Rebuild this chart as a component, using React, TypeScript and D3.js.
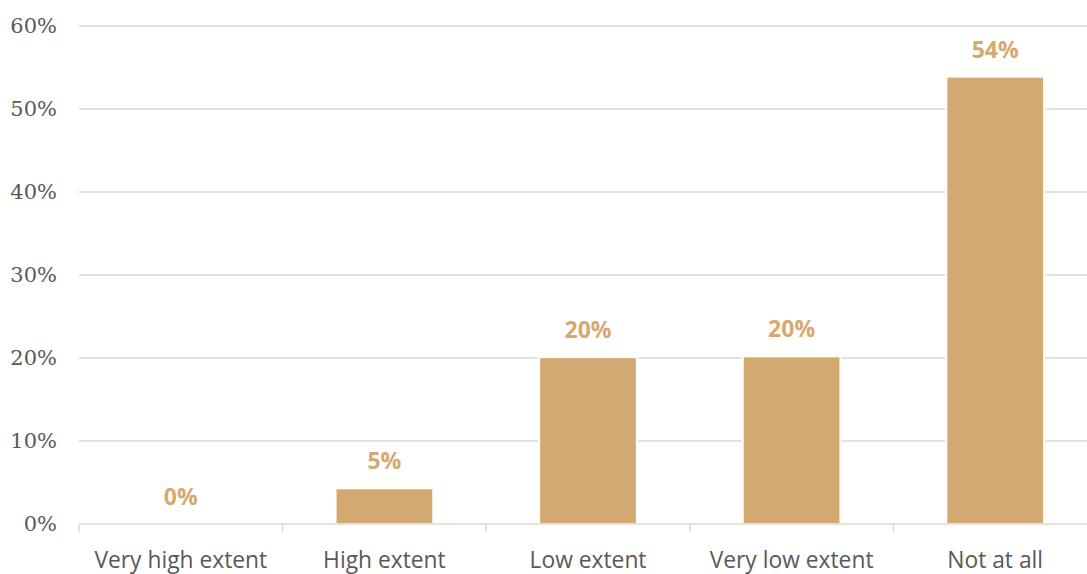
import React from "react";
import * as d3 from "d3";

const categories = ["Very high extent", "High extent", "Low extent", "Very low extent", "Not at all"];
const values = [0, 4.3, 20.1, 20.2, 53.9];
const valueLabels = ["0%", "5%", "20%", "20%", "54%"];
const yTicks = [0, 10, 20, 30, 40, 50, 60];

const W = 1087;
const H = 574;

export default function App() {
  const x = d3.scaleBand<string>().domain(categories).range([79, 1097]).paddingInner(0).paddingOuter(0);
  const y = d3.scaleLinear().domain([0, 60]).range([524, 26]);
  const bw = x.bandwidth() * 0.48;
  const barColor = "#D3A971";
  const labelColor = "#D6A96E";
  return (
    <svg width={W} height={H} style={{ position: "absolute", left: 0, top: 0, background: "#fff" }}>
      {yTicks.map((t) => (
        <g key={t}>
          {t > 0 && (
            <line x1={79} x2={1087} y1={y(t)} y2={y(t)} stroke="#d9d9d9" strokeWidth={1.5} />
          )}
          <text
            x={57}
            y={y(t)}
            dy="0.35em"
            textAnchor="end"
            fontFamily="'DejaVu Serif', 'Liberation Serif', serif"
            fontSize={21}
            fill="#595959"
          >
            {t}%
          </text>
        </g>
      ))}
      {categories.map((c, i) => {
        const cx = (x(c) as number) + x.bandwidth() / 2;
        const top = y(values[i]);
        return (
          <g key={c}>
            {values[i] > 0 && (
              <rect x={cx - bw / 2} y={top} width={bw} height={y(0) - top} fill={barColor} stroke="#fff" strokeWidth={2} />
            )}
            <text
              x={cx}
              y={top - 27}
              dy="0.35em"
              textAnchor="middle"
              fontFamily="'Open Sans', 'Noto Sans', sans-serif"
              fontWeight={700}
              fontSize={23}
              fill={labelColor}
            >
              {valueLabels[i]}
            </text>
            <text
              x={cx}
              y={560}
              dy="0.35em"
              textAnchor="middle"
              fontFamily="'Open Sans', 'Noto Sans', sans-serif"
              fontSize={22.8}
              fill="#595959"
            >
              {c}
            </text>
          </g>
        );
      })}
      <line x1={79} x2={1087} y1={y(0)} y2={y(0)} stroke="#d9d9d9" strokeWidth={1.5} />
      {categories.map((c) => (
        <line key={"t" + c} x1={x(c) as number} x2={x(c) as number} y1={y(0)} y2={y(0) + 8} stroke="#d9d9d9" strokeWidth={1.5} />
      ))}
    </svg>
  );
}
